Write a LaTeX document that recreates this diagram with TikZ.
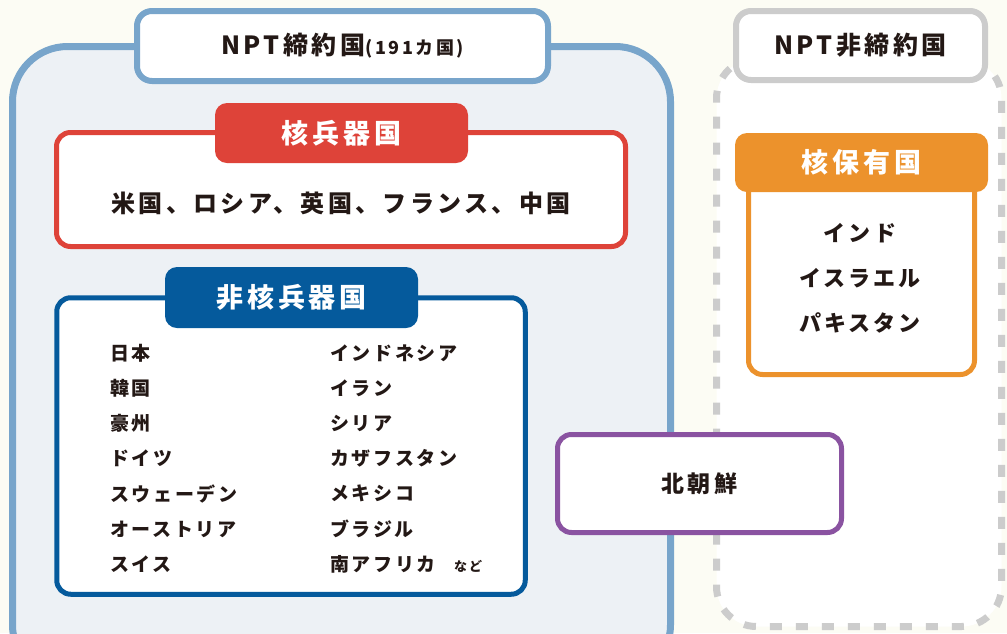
\documentclass[tikz,border=0pt]{standalone}
\usepackage{fontspec}
\setmainfont{Noto Sans CJK JP}[LetterSpace=14]
\usetikzlibrary{positioning}
\definecolor{cream}{HTML}{FCFCF4}
\definecolor{paleblue}{HTML}{EDF1F5}
\definecolor{nptblue}{HTML}{78A5CB}
\definecolor{dashgray}{HTML}{CCCCCC}
\definecolor{nukered}{HTML}{DE4339}
\definecolor{nonblue}{HTML}{055A9C}
\definecolor{holdorange}{HTML}{EC922C}
\definecolor{dprkpurple}{HTML}{8A53A1}
\definecolor{ink}{HTML}{231815}
\newcommand{\fsz}[1]{\fontsize{#1}{#1}\selectfont\bfseries}

\begin{document}
\begin{tikzpicture}
[x=1pt,y=-1pt, text=ink,
outer box/.style={rectangle, draw=nptblue, line width=7pt, fill=paleblue, rounded corners=55pt},
outside box/.style={rectangle, draw=dashgray, line width=7pt, fill=white, rounded corners=40pt, dash pattern=on 12pt off 14pt},
label box/.style={rectangle, line width=6pt, fill=white, rounded corners=15pt, font={\fsz{25}}},
group box/.style={rectangle, line width=5pt, fill=white, rounded corners=14pt},
head box/.style={rectangle, rounded corners=12pt, text=white, font={\fsz{27}}, minimum width=253pt},
list item/.style={anchor=west, inner sep=0pt, font={\fsz{19}}}]
    \useasboundingbox (0,0) rectangle (1007,633);
    \fill[cream] (0,0) rectangle (1007,633);
    \clip (0,0) rectangle (1007,633);
    % the two areas
    \node[outer box, minimum width=658pt, minimum height=633.5pt] (npt) at (341.5,363.25) {};
    \node[outside box, minimum width=285pt, minimum height=568pt] (nonnpt) at (859,342.5) {};
    \node[label box, draw=nptblue, minimum width=411pt, minimum height=70pt] (nptlabel) at (342.5,46) {NPT締約国{\fsz{18}(191カ国)}};
    \node[label box, draw=dashgray, minimum width=249pt, minimum height=69pt] (nonlabel) at (860.5,45.5) {NPT非締約国};
    % nuclear weapon states
    \node[group box, draw=nukered, minimum width=569pt, minimum height=114pt] (nws) at (341,189.5) {};
    \node[head box, fill=nukered, minimum height=60pt] (nwshead) at (341.5,133) {核兵器国};
    \node[font={\fsz{24}}] (nwslist) at (341,203) {米国、ロシア、英国、フランス、中国};
    % non nuclear weapon states
    \node[group box, draw=nonblue, minimum width=468.5pt, minimum height=296.5pt] (nnws) at (291,446) {};
    \node[head box, fill=nonblue, minimum height=61pt] (nnwshead) at (291.5,297.5) {非核兵器国};
    \node[list item] (japan) at (110,353) {日本};
    \node[list item] (korea) at (110,388.2) {韓国};
    \node[list item] (australia) at (110,423.4) {豪州};
    \node[list item] (germany) at (110,458.6) {ドイツ};
    \node[list item] (sweden) at (110,493.8) {スウェーデン};
    \node[list item] (austria) at (110,529) {オーストリア};
    \node[list item] (swiss) at (110,564.2) {スイス};
    \node[list item] (indonesia) at (330,353) {インドネシア};
    \node[list item] (iran) at (330,388.2) {イラン};
    \node[list item] (syria) at (330,423.4) {シリア};
    \node[list item] (kazakh) at (330,458.6) {カザフスタン};
    \node[list item] (mexico) at (330,493.8) {メキシコ};
    \node[list item] (brazil) at (330,529) {ブラジル};
    \node[list item] (safrica) at (330,564.2) {南アフリカ};
    \node[list item, font={\fsz{13}}] (etc) at (454,566) {など};
    % nuclear holders outside
    \node[group box, draw=holdorange, minimum width=226pt, minimum height=214.5pt] (holders) at (861.5,267.25) {};
    \node[head box, fill=holdorange, minimum height=59pt] (holdhead) at (861.5,162.5) {核保有国};
    \node[font={\fsz{22}}] (india) at (860,233) {インド};
    \node[font={\fsz{22}}] (israel) at (860,278) {イスラエル};
    \node[font={\fsz{22}}] (pakistan) at (860,323) {パキスタン};
    % north korea
    \node[group box, draw=dprkpurple, minimum width=284pt, minimum height=98pt, font={\fsz{23}}] (dprk) at (699.5,483.5) {北朝鮮};
\end{tikzpicture}
\end{document}
